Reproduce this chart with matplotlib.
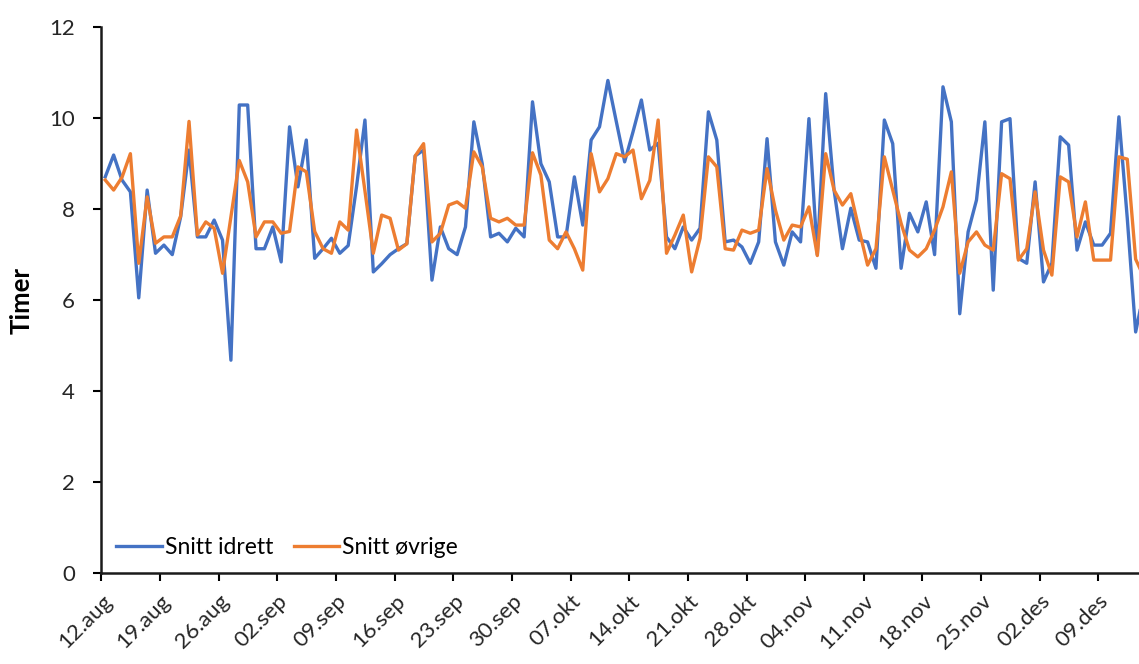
import numpy as np
import matplotlib.pyplot as plt

plt.rcParams['font.family'] = ['Lato', 'DejaVu Sans']

# Daily averages (hours), 12.aug onwards
snitt_idrett = [
    8.71, 9.19, 8.64, 8.38, 6.05, 8.42, 7.03, 7.21, 7.00, 7.83,
    9.30, 7.39, 7.39, 7.76, 7.32, 4.68, 10.29, 10.29, 7.13, 7.13,
    7.61, 6.84, 9.81, 8.49, 9.52, 6.92, 7.13, 7.36, 7.03, 7.20,
    8.50, 9.96, 6.62, 6.80, 7.00, 7.13, 7.24, 9.17, 9.30, 6.44,
    7.61, 7.13, 7.00, 7.61, 9.92, 9.00, 7.39, 7.47, 7.28, 7.58,
    7.39, 10.36, 9.00, 8.60, 7.39, 7.39, 8.71, 7.65, 9.52, 9.81,
    10.83, 9.93, 9.04, 9.70, 10.40, 9.30, 9.45, 7.39, 7.13, 7.61,
    7.32, 7.58, 10.14, 9.52, 7.28, 7.32, 7.17, 6.81, 7.28, 9.55,
    7.28, 6.77, 7.50, 7.28, 9.99, 7.00, 10.54, 8.42, 7.13, 8.02,
    7.32, 7.28, 6.70, 9.96, 9.44, 6.70, 7.91, 7.50, 8.16, 7.00,
    10.69, 9.92, 5.70, 7.50, 8.20, 9.92, 6.22, 9.92, 9.99, 6.92,
    6.81, 8.60, 6.40, 6.81, 9.59, 9.41, 7.10, 7.72, 7.21, 7.21,
    7.47, 10.03, 7.80, 5.30, 6.20,
]
snitt_ovrige = [
    8.64, 8.42, 8.70, 9.22, 6.81, 8.27, 7.25, 7.39, 7.39, 7.85,
    9.93, 7.43, 7.72, 7.58, 6.59, 7.83, 9.07, 8.60, 7.39, 7.72,
    7.72, 7.47, 7.51, 8.93, 8.82, 7.51, 7.13, 7.03, 7.72, 7.54,
    9.74, 8.40, 7.03, 7.87, 7.80, 7.10, 7.24, 9.17, 9.44, 7.28,
    7.47, 8.09, 8.16, 8.02, 9.26, 8.93, 7.80, 7.72, 7.80, 7.65,
    7.65, 9.24, 8.75, 7.32, 7.13, 7.50, 7.13, 6.66, 9.22, 8.38,
    8.67, 9.22, 9.15, 9.30, 8.23, 8.63, 9.96, 7.03, 7.43, 7.87,
    6.62, 7.36, 9.15, 8.93, 7.13, 7.10, 7.54, 7.47, 7.54, 8.89,
    7.98, 7.32, 7.65, 7.61, 8.05, 6.98, 9.22, 8.42, 8.09, 8.34,
    7.54, 6.77, 7.13, 9.15, 8.42, 7.69, 7.10, 6.95, 7.13, 7.54,
    8.05, 8.82, 6.59, 7.28, 7.50, 7.21, 7.10, 8.78, 8.67, 6.88,
    7.13, 8.38, 7.10, 6.55, 8.71, 8.60, 7.39, 8.16, 6.88, 6.88,
    6.88, 9.15, 9.10, 6.90, 6.50,
]
uke_labels = [
    '12.aug', '19.aug', '26.aug', '02.sep', '09.sep', '16.sep', '23.sep',
    '30.sep', '07.okt', '14.okt', '21.okt', '28.okt', '04.nov', '11.nov',
    '18.nov', '25.nov', '02.des', '09.des',
]

dager = np.arange(len(snitt_idrett))

fig = plt.figure(figsize=(11.39, 6.64), dpi=100)
ax = fig.add_axes([0.0891, 0.137, 0.9109, 0.822])

ax.plot(dager, snitt_idrett, color='#4472C4', lw=2.4, label='Snitt idrett',
        solid_joinstyle='round')
ax.plot(dager, snitt_ovrige, color='#ED7D31', lw=2.4, label='Snitt øvrige',
        solid_joinstyle='round')

# day boundaries as tick positions (points sit between ticks)
ax.set_xticks(np.arange(len(uke_labels)) * 7 - 0.45)
ax.set_xticklabels(uke_labels, rotation=45, ha='right', va='top',
                   rotation_mode='anchor', fontsize=16, color='#262626')
ax.set_xlim(-0.45, 123.4)

ax.set_ylim(0, 12)
ax.set_yticks(range(0, 13, 2))
ax.tick_params(axis='y', labelsize=16, labelcolor='#262626', length=6,
               width=1.5, direction='out', pad=13)
ax.tick_params(axis='x', length=6, width=1.5, direction='out', pad=7)
ax.set_ylabel('Timer', fontsize=18.5, fontweight='bold', labelpad=11)

for side in ['top', 'right']:
    ax.spines[side].set_visible(False)
for side in ['left', 'bottom']:
    ax.spines[side].set_linewidth(1.8)
    ax.spines[side].set_color('#1a1a1a')

ax.legend(loc='lower left', ncol=2, frameon=False, fontsize=16.5,
          handlelength=2.0, handletextpad=0.1, columnspacing=0.9,
          bbox_to_anchor=(0.0, 0.0), borderaxespad=0.25)

fig.savefig('out.png', dpi=100)
